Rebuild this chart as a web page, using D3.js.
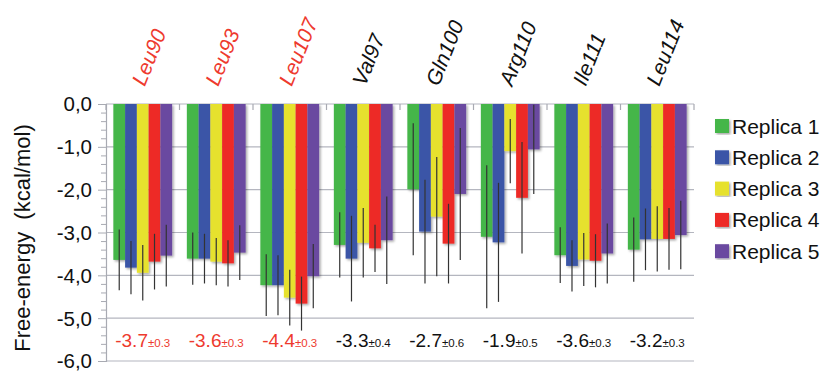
<!DOCTYPE html>
<html><head><meta charset="utf-8">
<script src="https://cdn.jsdelivr.net/npm/d3@7"></script>
<style>body{margin:0;background:#fff}svg{display:block}text{font-family:"Liberation Sans",Arial,sans-serif}</style>
</head><body><svg id="c" width="825" height="372"></svg>
<script>
const categories = ["Leu90","Leu93","Leu107","Val97","Gln100","Arg110","Ile111","Leu114"];
const highlighted = ["Leu90","Leu93","Leu107"];
const replicas = ["Replica 1","Replica 2","Replica 3","Replica 4","Replica 5"];
const colors = ["#45b649","#3a55a7","#e6e12f","#ed2a26","#6b4aa0"];
const rep1 = [-3.64,-3.61,-4.23,-3.29,-1.99,-3.10,-3.53,-3.40];
const rep2 = [-3.82,-3.61,-4.23,-3.61,-2.98,-3.23,-3.78,-3.16];
const rep3 = [-3.94,-3.68,-4.52,-3.24,-2.63,-1.10,-3.63,-3.15];
const rep4 = [-3.68,-3.72,-4.66,-3.37,-3.26,-2.19,-3.66,-3.15];
const rep5 = [-3.54,-3.47,-4.02,-3.18,-2.10,-1.06,-3.49,-3.06];
const err1 = [0.71,0.61,0.72,0.76,1.54,1.67,0.65,0.75];
const err2 = [0.62,0.58,0.70,1.00,1.21,1.39,0.60,0.72];
const err3 = [0.65,0.55,0.65,0.81,1.39,0.75,0.62,0.76];
const err4 = [0.65,0.54,0.63,0.55,0.93,1.30,0.62,0.72];
const err5 = [0.72,0.64,0.75,1.02,1.54,1.04,0.70,0.80];
const meanLabels = ["-3.7","-3.6","-4.4","-3.3","-2.7","-1.9","-3.6","-3.2"];
const sdLabels = ["±0.3","±0.3","±0.3","±0.4","±0.6","±0.5","±0.3","±0.3"];
const yTicks = [0,-1,-2,-3,-4,-5,-6];
const yTickLabels = ["0,0","-1,0","-2,0","-3,0","-4,0","-5,0","-6,0"];
const yTitle = "Free-energy\u00a0\u00a0(kcal/mol)";

const values = [rep1,rep2,rep3,rep4,rep5];
const errors = [err1,err2,err3,err4,err5];
const redText = "#ee3a2e";

const svg = d3.select("#c");
const defs = svg.append("defs");
const f = defs.append("filter").attr("id","sh").attr("x","-20%").attr("y","-5%").attr("width","150%").attr("height","115%");
f.append("feDropShadow").attr("dx",1.5).attr("dy",1.5).attr("stdDeviation",1).attr("flood-color","#000").attr("flood-opacity",0.35);

const x0 = d3.scaleBand().domain(categories).range([106,694]).paddingInner(0.2).paddingOuter(0.1);
const x1 = d3.scaleBand().domain(replicas).range([0,x0.bandwidth()]);
const y = d3.scaleLinear().domain([-6,0]).range([361,104]);

// gridlines
svg.append("g").selectAll("line").data(yTicks).join("line")
  .attr("x1",x0.range()[0]).attr("x2",x0.range()[1])
  .attr("y1",d=>y(d)).attr("y2",d=>y(d))
  .attr("stroke","#b4b6bf").attr("stroke-width",1.2);

// y axis with minor ticks
const minor = d3.range(0,31).map(i=>-i*0.2);
const ax = svg.append("g").attr("transform",`translate(${x0.range()[0]},0)`)
  .call(d3.axisLeft(y).tickValues(minor).tickSize(5).tickFormat(""));
ax.select(".domain").attr("stroke","#a8aab2").attr("stroke-width",1.2);
ax.selectAll(".tick line").attr("stroke","#a8aab2");
ax.selectAll(".tick").filter(d=>Math.abs(d-Math.round(d))<1e-6).select("line").attr("x2",-8);

svg.append("g").selectAll("text").data(yTicks).join("text")
  .attr("x",92).attr("y",d=>y(d)).attr("dy","0.36em")
  .attr("text-anchor","end").attr("font-size",20.5).attr("fill","#111")
  .text((d,i)=>yTickLabels[i]);

// group boundary ticks at top
svg.append("g").selectAll("line").data(d3.range(categories.length+1)).join("line")
  .attr("x1",i=>x0.range()[0]+i*x0.step()).attr("x2",i=>x0.range()[0]+i*x0.step())
  .attr("y1",y(0)).attr("y2",y(0)+6)
  .attr("stroke","#a8aab2").attr("stroke-width",1.2);

// y title
svg.append("text").attr("transform","translate(30,238) rotate(-90)")
  .attr("text-anchor","middle").attr("font-size",22).attr("fill","#111")
  .text(yTitle);

// bars
const groups = svg.append("g").selectAll("g").data(categories).join("g")
  .attr("transform",d=>`translate(${x0(d)},0)`);
groups.selectAll("rect").data((c,ci)=>replicas.map((r,ri)=>({r,ri,v:values[ri][ci],e:errors[ri][ci]}))).join("rect")
  .attr("x",d=>x1(d.r)).attr("width",x1.bandwidth())
  .attr("y",y(0)).attr("height",d=>y(d.v)-y(0))
  .attr("fill",d=>colors[d.ri]).attr("filter","url(#sh)");
groups.selectAll("line.err").data((c,ci)=>replicas.map((r,ri)=>({r,ri,v:values[ri][ci],e:errors[ri][ci]}))).join("line")
  .attr("class","err")
  .attr("x1",d=>x1(d.r)+x1.bandwidth()/2).attr("x2",d=>x1(d.r)+x1.bandwidth()/2)
  .attr("y1",d=>y(Math.min(0,d.v+d.e))).attr("y2",d=>y(d.v-d.e))
  .attr("stroke","#333").attr("stroke-width",1.2);

// top labels
svg.append("g").selectAll("text").data(categories).join("text")
  .attr("transform",d=>`translate(${x0(d)+x0.bandwidth()/2+2},87) rotate(-68)`)
  .attr("font-size",21).attr("font-style","italic")
  .attr("fill",d=>highlighted.includes(d)?redText:"#111")
  .text(d=>d);

// bottom annotations
const ann = svg.append("g").selectAll("text").data(categories).join("text")
  .attr("x",d=>x0(d)+x0.bandwidth()/2).attr("y",347).attr("text-anchor","middle")
  .attr("fill",d=>highlighted.includes(d)?redText:"#111");
ann.append("tspan").attr("font-size",19).text((d,i)=>meanLabels[i]);
ann.append("tspan").attr("font-size",11.5).text((d,i)=>sdLabels[i]);

// legend
const lg = svg.append("g").selectAll("g").data(replicas).join("g")
  .attr("transform",(d,i)=>`translate(715,${126+i*31.3})`);
lg.append("rect").attr("x",0).attr("y",-7).attr("width",14).attr("height",14)
  .attr("fill",(d,i)=>colors[i]).attr("filter","url(#sh)");
lg.append("text").attr("x",17).attr("y",0).attr("dy","0.36em")
  .attr("font-size",21).attr("fill","#111").text(d=>d);
</script></body></html>
